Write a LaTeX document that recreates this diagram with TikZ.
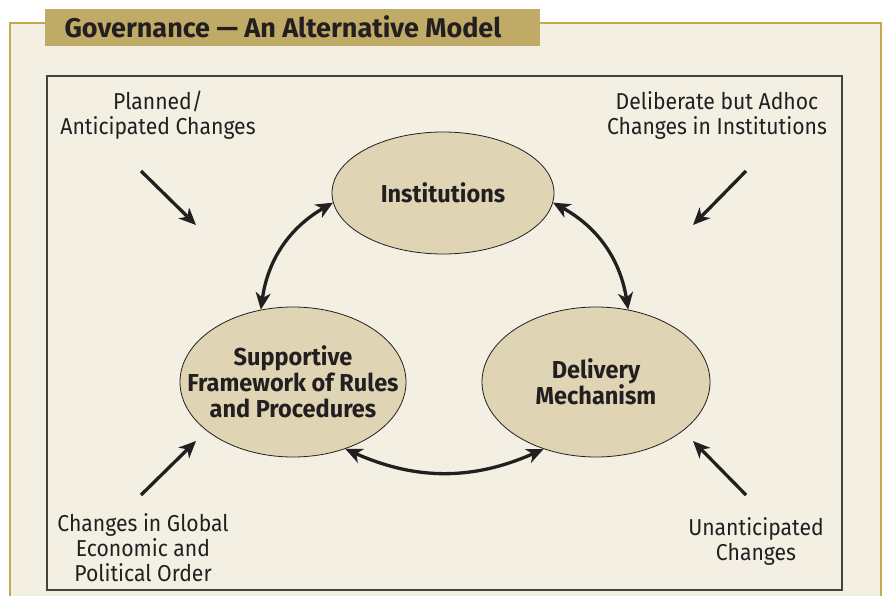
\documentclass[tikz,border=0pt]{standalone}
\usepackage{fontspec}
\setmainfont{Fira Sans}
\newfontfamily\bodyfont{Fira Sans}[FakeStretch=0.92]
\newfontfamily\ovalfont{Fira Sans}[FakeStretch=0.96]
\usetikzlibrary{arrows.meta,shapes.geometric}

\definecolor{panelbg}{HTML}{F3EFE3}
\definecolor{goldline}{HTML}{C4A850}
\definecolor{titlebar}{HTML}{BFAA66}
\definecolor{ovalfill}{HTML}{DFD4B3}
\definecolor{ink}{HTML}{231F20}

\tikzset{
  oval/.style={ellipse,draw=ink,fill=ovalfill,line width=0.8pt,inner sep=0pt,
    align=center,font=\ovalfont\bfseries\fontsize{24.5}{26}\selectfont,text=ink},
  change/.style={align=center,font=\bodyfont\fontsize{23}{25}\selectfont,text=ink},
  cycle/.style={<->,line width=3.3pt,draw=ink},
  push/.style={->,line width=3.3pt,draw=ink}
}

\begin{document}
\begin{tikzpicture}[x=1pt,y=-1pt,>={Stealth[length=17pt,width=15pt,inset=5pt]}]
\useasboundingbox (0,0) rectangle (885,596);
\fill[white] (0,0) rectangle (885,596);

% panel and title
\filldraw[fill=panelbg,draw=goldline,line width=1.2pt] (10,620) -- (10,23) -- (881,23) -- (881,620);
\fill[titlebar] (45,9) rectangle (540,46);
\node[anchor=west,text=ink,font=\bfseries\fontsize{27}{30}\selectfont] (title) at (61,27) {Governance — An Alternative Model};
\draw[draw=ink!85,line width=1.1pt] (47,76) rectangle (842,590);

% the three parts
\node[oval,minimum width=222pt,minimum height=122pt] (inst) at (443,193) {Institutions};
\node[oval,inner xsep=-31pt,minimum width=226pt,minimum height=150pt] (supp) at (293,382) {Supportive\\Framework of Rules\\and Procedures};
\node[oval,minimum width=228pt,minimum height=150pt] (deliv) at (596,382) {Delivery\\Mechanism};

\draw[cycle] (inst.185) to[bend right=26] (supp.114);
\draw[cycle] (inst.-5) to[bend left=26] (deliv.66);
\draw[cycle] (supp.-52) to[bend right=24] (deliv.232);

% outside changes
\node[change] (planned) at (158,115) {Planned/\\Anticipated Changes};
\node[change] (adhoc) at (717,115) {Deliberate but Adhoc\\Changes in Institutions};
\node[change] (global) at (143,548) {Changes in Global\\Economic and\\Political Order};
\node[change] (unant) at (756,541) {Unanticipated\\Changes};

\coordinate (p1) at (141,171); \coordinate (p2) at (196,225);
\coordinate (a1) at (746,171); \coordinate (a2) at (693,225);
\coordinate (g1) at (141,495); \coordinate (g2) at (196,441);
\coordinate (u1) at (746,495); \coordinate (u2) at (693,441);
\draw[push] (p1) -- (p2);
\draw[push] (a1) -- (a2);
\draw[push] (g1) -- (g2);
\draw[push] (u1) -- (u2);
\end{tikzpicture}
\end{document}
